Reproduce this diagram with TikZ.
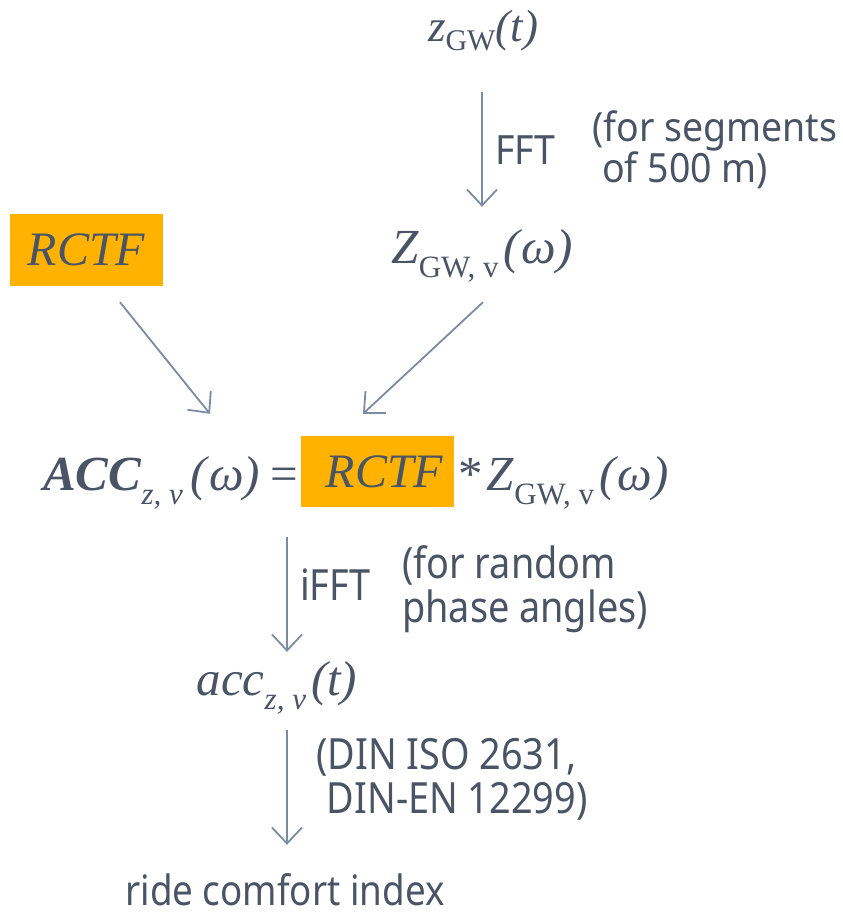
\documentclass[tikz,border=0pt]{standalone}
\usepackage{fontspec}
\setmainfont{Liberation Serif}
\newfontfamily\labelsans[FakeStretch=0.93]{Noto Sans}
\newfontfamily\narrowsans[FakeStretch=0.88]{Noto Sans}
\usetikzlibrary{arrows.meta,calc}
\definecolor{ink}{HTML}{4A5465}
\definecolor{flow}{HTML}{7A8BA3}
\definecolor{hl}{HTML}{FFB300}
% lowered subscript in a given size
\newcommand{\lowsub}[3]{\raisebox{-#1}{\fontsize{#2}{#2}\selectfont #3}}
\newcommand{\zgwv}{\textit{Z}\lowsub{14pt}{31}{GW, v}\kern5pt\textit{(\kern2pt ω)}}
\tikzset{
  formula/.style={inner sep=0pt, text=ink, font=\fontsize{49}{49}\selectfont},
  hlbox/.style={fill=hl, inner sep=0pt, minimum width=153pt, minimum height=72pt,
    text=ink, font=\fontsize{48}{48}\selectfont\itshape},
  note/.style={inner sep=0pt, text=ink, align=left, font=\labelsans\fontsize{40.3}{40}\selectfont},
  narrownote/.style={inner sep=0pt, text=ink, align=left, font=\narrowsans\fontsize{43}{44}\selectfont},
  flowarrow/.style={draw=flow, line width=1.8pt, -{Straight Barb[length=16pt,width=30pt,line width=1.8pt]}}
}
\begin{document}
\begin{tikzpicture}[x=1pt,y=-1pt]
\useasboundingbox (0,0) rectangle (843,914);

% signal in time domain and its spectrum
\node[formula, font=\fontsize{45}{45}\selectfont, anchor=base, text height=30pt, text depth=10pt]
  (zt) at (483,41) {\textit{z}\lowsub{9pt}{30}{GW}\textit{(t)}};
\node[formula, anchor=base, text height=34pt, text depth=13pt] (zw) at (482,263) {\zgwv};
\draw[flowarrow] ($(zt.south)+(-1,41)$) -- ($(zw.north)+(0,-22)$);
\node[note, anchor=west] (fft) at (495,150) {FFT};
\node[note, anchor=west] (seg) at (592,150) {(for segments\\\hspace*{0.25em}of 500 m)};

% transfer function
\node[hlbox] (rctf) at (86.5,250) {RCTF};

% response spectrum
\node[hlbox, minimum height=71pt] (box) at (377.5,471.5) {\hspace*{14pt}RCTF};
\node[formula, anchor=base east, text height=36pt, text depth=18pt] (acc) at (298,490)
  {\textbf{\textit{ACC}}\lowsub{14pt}{31}{\itshape z, v}\kern8pt\textit{(\kern2pt ω)}\kern10pt=};
\node[formula, anchor=base west] (prod) at (458,490) {*\kern4pt\zgwv};

\draw[flowarrow] ($(rctf.south)+(33.5,16)$) -- ($(acc.north east)+(-88,-40)$);
\draw[flowarrow] ($(zw.south)+(1,26)$) -- ($(box.north)+(-14.5,-22)$);

% back to time domain
\node[formula, anchor=base, text height=36pt, text depth=18pt] (acct) at (277,695)
  {\textit{acc}\lowsub{14pt}{31}{\itshape z, v}\kern5pt\textit{(t)}};
\draw[flowarrow] ($(acc.south east)+(-11,29)$) -- ($(acct.north)+(10,-7)$);
\node[narrownote, anchor=west] (ifft) at (300,585) {iFFT};
\node[narrownote, anchor=west] (phase) at (402,589) {(for random\\phase angles)};

% evaluation
\node[narrownote, font=\narrowsans\fontsize{41.8}{44}\selectfont, anchor=base, text height=30pt, text depth=0pt]
  (ride) at (285,905) {ride comfort index};
\draw[flowarrow] ($(acct.south)+(10,17)$) -- ($(ride.north)+(2,-30)$);
\node[narrownote, anchor=west] (din) at (316,779) {(DIN ISO 2631,\\\hspace*{0.25em}DIN-EN 12299)};
\end{tikzpicture}
\end{document}
